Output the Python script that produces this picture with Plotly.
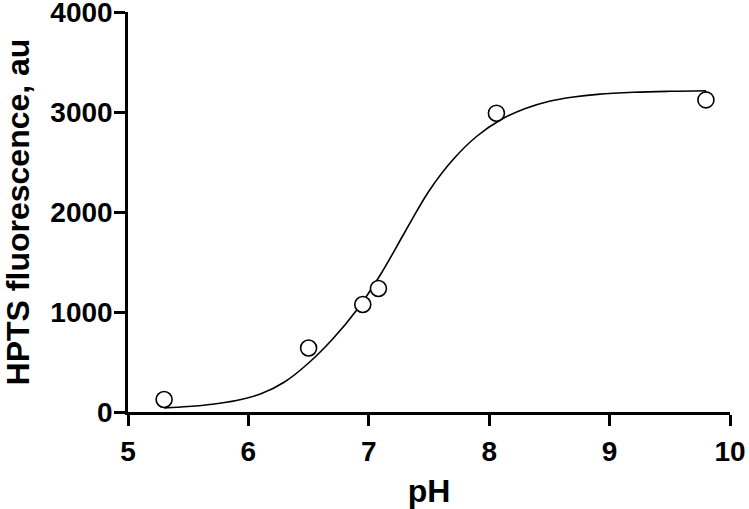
import plotly.graph_objects as go

# measured points
ph_obs = [5.30, 6.50, 6.95, 7.08, 8.06, 9.80]
fluor_obs = [125, 640, 1075, 1235, 2988, 3121]

# fitted curve
ph_fit = [5.3, 5.5, 5.7, 5.9, 6.1, 6.3, 6.5, 6.7, 6.9, 7.1, 7.3,
          7.5, 7.7, 7.9, 8.1, 8.3, 8.5, 8.7, 8.9, 9.2, 9.5, 9.8]
fluor_fit = [40, 55, 78, 115, 180, 300, 490, 730, 1020, 1380, 1800,
             2210, 2525, 2760, 2925, 3035, 3108, 3150, 3176, 3197, 3207, 3212]

x_ticks = [5, 6, 7, 8, 9, 10]
y_ticks = [0, 1000, 2000, 3000, 4000]

FONT = "Liberation Sans, Arial, sans-serif"

fig = go.Figure()

fig.add_trace(go.Scatter(
    x=ph_fit, y=fluor_fit,
    mode='lines',
    line=dict(color='black', width=1.6, shape='spline', smoothing=1.0),
    hoverinfo='skip',
))

fig.add_trace(go.Scatter(
    x=ph_obs, y=fluor_obs,
    mode='markers',
    marker=dict(symbol='circle', size=16, color='white',
                line=dict(color='black', width=1.6)),
))

axis_common = dict(
    showgrid=False,
    zeroline=False,
    showline=True,
    linecolor='black',
    linewidth=2.5,
    ticks='outside',
    ticklen=11,
    tickwidth=2.5,
    tickcolor='black',
    automargin=False,
    ticklabeloverflow='allow',
    tickfont=dict(family=FONT, size=28, color='black', weight='bold'),
)

title_font = dict(family=FONT, size=32, color='black', weight='bold')

fig.update_layout(
    width=749, height=509,
    showlegend=False,
    plot_bgcolor='white',
    paper_bgcolor='white',
    margin=dict(l=128, r=19, t=12, b=97),
    xaxis=dict(
        range=[5, 10], tickvals=x_ticks, ticktext=[str(v) for v in x_ticks],
        ticklabelstandoff=2,
        title=dict(text='pH', font=title_font, standoff=15),
        **axis_common,
    ),
    yaxis=dict(
        range=[0, 4000], tickvals=y_ticks, ticktext=[str(v) for v in y_ticks],
        ticklabelstandoff=-4,
        title=dict(text='HPTS fluorescence, au', font=title_font, standoff=14),
        **axis_common,
    ),
)

# page body margin would shift the figure by 8px
fig.write_html("out.html", config={'displayModeBar': False},
               post_script="document.body.style.margin='0px';")
